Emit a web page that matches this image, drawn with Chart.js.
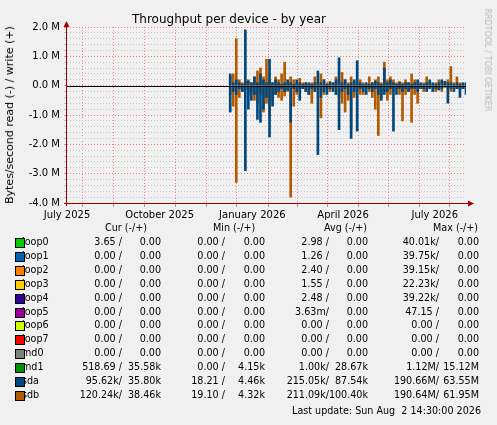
<!DOCTYPE html>
<html><head><meta charset="utf-8">
<script src="https://cdn.jsdelivr.net/npm/chart.js@4"></script>
<style>
body{margin:0;background:#f0f0f0;font-family:"DejaVu Sans",sans-serif;}
#wrap{position:relative;width:497px;height:425px;overflow:hidden;background:#f0f0f0;}
canvas{position:absolute;left:0;top:0;}
.t{position:absolute;white-space:pre;font-size:9.6px;color:#000;line-height:12px;}
.r{text-align:right;}
.sw{position:absolute;width:8px;height:8px;border:1px solid #000;z-index:2;}
</style></head><body>
<div id="wrap">
<canvas id="c" width="497" height="225"></canvas>
<div class="t" style="left:0;width:458px;top:13px;text-align:center;font-size:12px;">Throughput per device - by year</div>
<div class="t" style="left:10px;top:115px;transform:translate(-50%,-50%) rotate(-90deg);font-size:11px;">Bytes/second read (-) / write (+)</div>
<div class="t" style="left:487px;top:60px;transform:translate(-50%,-50%) rotate(90deg);font-size:8px;color:#bbb;">RRDTOOL / TOBI OETIKER</div>
<div id="leg"></div>
</div>
<script>
const days=[162,165,168,171,174,177,180,183,186,189,192,195,198,201,204,207,210,213,216,219,222,225,228,231,234,237,240,243,246,249,252,255,258,261,264,267,270,273,276,279,282,285,288,291,294,297,300,303,306,309,312,315,318,321,324,327,330,333,336,339,342,345,348,351,354,357,360,363,366,369,372,375,378,381,384,387,390,393,396];
const sdbWrite=[0.3,0.4,1.6,0.2,0.1,0.15,0.2,0.1,0.3,0.5,0.6,0.3,0.9,0.2,0.1,0.3,0.2,0.4,0.8,0.1,0.3,0.2,0.1,0.25,0.1,0.1,0.05,0.1,0.3,0.1,0.4,0.2,0.1,0.15,0.1,0.3,0.2,0.45,0.2,0.1,0.3,0.15,0.1,0.2,0.1,0.05,0.3,0.1,0.2,0.3,0.1,0.8,0.2,0.3,0.2,0.1,0.15,0.1,0.2,0.1,0.4,0.2,0.1,0.05,0.1,0.3,0.1,0.05,0.1,0.2,0.15,0.1,0.2,0.65,0.1,0.3,0.1,0.05,0.05];
const sdbRead=[-0.3,-0.7,-3.3,-0.4,-0.2,-0.1,-0.3,-0.2,-0.5,-0.6,-0.3,-0.9,-0.6,-1.0,-0.5,-0.3,-0.4,-0.5,-0.35,-0.2,-3.8,-0.7,-0.3,-0.2,-0.1,-0.2,-0.3,-0.6,-0.2,-0.1,-1.1,-0.3,-0.15,-0.2,-0.1,-0.3,-0.4,-0.6,-0.9,-0.5,-1.45,-0.4,-0.2,-0.3,-0.3,-0.1,-0.2,-0.4,-0.8,-1.7,-0.3,-0.2,-0.5,-0.3,-0.2,-0.1,-0.3,-1.2,-0.3,-0.2,-1.25,-0.3,-0.6,-0.1,-0.2,-0.15,-0.1,-0.05,-0.2,-0.1,-0.2,-0.05,-0.1,-0.2,-0.1,-0.1,-0.15,-0.1,-0.1];
const sdaWrite=[0.4,0.1,0.2,0.1,0.05,1.9,0.15,0.1,0.3,0.1,0.4,0.2,0.1,0.9,0.1,0.2,0.1,0.05,0.1,0.2,0.1,0.05,0.2,0.1,0.05,0.1,0.1,0.05,0.1,0.5,0.1,0.2,0.05,0.1,0.1,0.2,0.95,0.1,0.2,0.05,0.1,0.2,0.85,0.1,0.05,0.1,0.05,0.1,0.15,0.1,0.05,0.6,0.1,0.2,0.1,0.05,0.1,0.05,0.1,0.1,0.05,0.1,0.2,0.1,0.05,0.1,0.2,0.1,0.05,0.1,0.2,0.15,0.1,0.1,0.05,0.1,0.05,0.1,0.1];
const sdaRead=[-0.9,-0.2,-0.3,-0.1,-0.2,-2.9,-0.8,-0.5,-0.3,-1.15,-1.25,-0.8,-0.4,-1.75,-0.7,-0.3,-0.2,-0.1,-0.2,-0.15,-1.25,-0.1,-0.2,-0.5,-0.1,-0.2,-0.3,-0.1,-0.2,-2.35,-0.4,-0.2,-0.3,-0.1,-0.2,-0.3,-1.5,-0.2,-0.1,-0.3,-1.8,-0.2,-1.55,-0.1,-0.2,-0.3,-0.1,-0.2,-0.1,-0.3,-0.5,-0.3,-0.2,-0.1,-1.55,-0.3,-0.1,-0.2,-0.1,-0.2,-0.1,-0.1,-0.2,-0.1,-0.1,-0.2,-0.1,-0.2,-0.1,-0.15,-0.1,-0.05,-0.6,-0.1,-0.2,-0.1,-0.4,-0.1,-0.3];
const monthDays=[0,31,62,92,123,153,184,215,243,274,304,335,365];
const monthLabels={0:"July 2025",92:"October 2025",184:"January 2026",274:"April 2026",365:"July 2026"};
const devices=["loop0","loop1","loop2","loop3","loop4","loop5","loop6","loop7","md0","md1","sda","sdb"];
const devColors=["#00cc00","#0066b3","#ff8000","#ffcc00","#330099","#990099","#ccff00","#ff0000","#808080","#008f00","#00487d","#b35a00"];
const curV=[["3.65 /","0.00"],["0.00 /","0.00"],["0.00 /","0.00"],["0.00 /","0.00"],["0.00 /","0.00"],["0.00 /","0.00"],["0.00 /","0.00"],["0.00 /","0.00"],["0.00 /","0.00"],["518.69 /","35.58k"],["95.62k/","35.80k"],["120.24k/","38.46k"]];
const minV=[["0.00 /","0.00"],["0.00 /","0.00"],["0.00 /","0.00"],["0.00 /","0.00"],["0.00 /","0.00"],["0.00 /","0.00"],["0.00 /","0.00"],["0.00 /","0.00"],["0.00 /","0.00"],["0.00 /","4.15k"],["18.21 /","4.46k"],["19.10 /","4.32k"]];
const avgV=[["2.98 /","0.00"],["1.26 /","0.00"],["2.40 /","0.00"],["1.55 /","0.00"],["2.48 /","0.00"],["3.63m/","0.00"],["0.00 /","0.00"],["0.00 /","0.00"],["0.00 /","0.00"],["1.00k/","28.67k"],["215.05k/","87.54k"],["211.09k/","100.40k"]];
const maxV=[["40.01k/","0.00"],["39.75k/","0.00"],["39.15k/","0.00"],["22.23k/","0.00"],["39.22k/","0.00"],["47.15 /","0.00"],["0.00 /","0.00"],["0.00 /","0.00"],["0.00 /","0.00"],["1.12M/","15.12M"],["190.66M/","63.55M"],["190.64M/","61.95M"]];

const pts=(v)=>v.map((y,i)=>({x:days[i],y:y}));
const ds=(v,c)=>({data:pts(v),backgroundColor:c,borderWidth:0,barThickness:2,grouped:false});
const axes={id:'axes',afterDraw(ch){const c=ch.ctx,a=ch.chartArea;c.save();
c.strokeStyle='#000';c.lineWidth=1;const y0=Math.round(ch.scales.y.getPixelForValue(0))+0.5;c.beginPath();c.moveTo(a.left,y0);c.lineTo(a.right,y0);c.stroke();
c.strokeStyle='#a00000';c.beginPath();c.moveTo(a.left-0.5,a.top-2);c.lineTo(a.left-0.5,a.bottom+3);c.moveTo(a.left-3,a.bottom+0.5);c.lineTo(a.right+4,a.bottom+0.5);c.stroke();
c.fillStyle='#a00000';
c.beginPath();c.moveTo(a.left-3.5,a.top);c.lineTo(a.left+2.5,a.top);c.lineTo(a.left-0.5,a.top-6);c.fill();
c.beginPath();c.moveTo(a.right+2,a.bottom-2.5);c.lineTo(a.right+2,a.bottom+3.5);c.lineTo(a.right+8,a.bottom+0.5);c.fill();
c.restore();}};
new Chart(document.getElementById('c'),{type:'bar',
data:{datasets:[ds(sdaWrite,'#00487d'),ds(sdaRead,'#00487d'),ds(sdbWrite,'#b35a00'),ds(sdbRead,'#b35a00')]},
options:{responsive:false,animation:false,layout:{padding:{top:27,right:31,left:0,bottom:0}},
plugins:{legend:{display:false},title:{display:false},tooltip:{enabled:false}},
scales:{
x:{type:'linear',min:0,max:396,offset:false,
afterBuildTicks:(s)=>{s.ticks=monthDays.map(v=>({value:v}));},
afterFit:(s)=>{s.height=22;},
ticks:{autoSkip:false,maxRotation:0,color:'#000',font:{family:'DejaVu Sans',size:10},padding:2,callback:(v)=>monthLabels[v]||''},
grid:{color:'rgba(235,120,120,0.9)',lineWidth:1,tickLength:4,drawTicks:true},
border:{display:false,dash:[1,2]}},
y:{min:-4,max:2,
afterBuildTicks:(s)=>{const t=[];for(let k=-20;k<=10;k++)t.push({value:k/5});s.ticks=t;},
afterFit:(s)=>{s.width=67;},
ticks:{autoSkip:false,color:'#000',font:{family:'DejaVu Sans',size:10},padding:4,callback:(v)=>{const r=Math.round(v*5);return r%5===0?(v).toFixed(1)+' M':'';}},
grid:{color:(c)=>{const r=Math.round(c.tick.value*5);return r%5===0?'rgba(235,120,120,0.9)':'rgba(190,190,190,0.9)';},tickLength:3,drawTicks:true},
border:{display:false,dash:[1,2]}}}},plugins:[axes]});

const leg=document.getElementById('leg');
function txt(s,left,top,cls,width){const d=document.createElement('div');d.className='t '+(cls||'');d.textContent=s;d.style.top=top+'px';
if(cls==='r'){d.style.left=(left-width)+'px';d.style.width=width+'px';}else d.style.left=left+'px';leg.appendChild(d);}
[["Cur (-/+)",105],["Min (-/+)",213],["Avg (-/+)",324],["Max (-/+)",433]].forEach(h=>txt(h[0],h[1],222));
const cols=[[curV,122,161],[minV,225,265],[avgV,329,368],[maxV,439,479]];
devices.forEach((d,i)=>{const y=236+i*13.9;
const s=document.createElement('div');s.className='sw';s.style.left='15px';s.style.top=(y+2)+'px';s.style.background=devColors[i];leg.appendChild(s);
txt(d,22,y);
cols.forEach(c=>{txt(c[0][i][0],c[1],y,'r',70);txt(c[0][i][1],c[2],y,'r',40);});});
txt("Last update: Sun Aug  2 14:30:00 2026",481,405,'r',230);
</script></body></html>
